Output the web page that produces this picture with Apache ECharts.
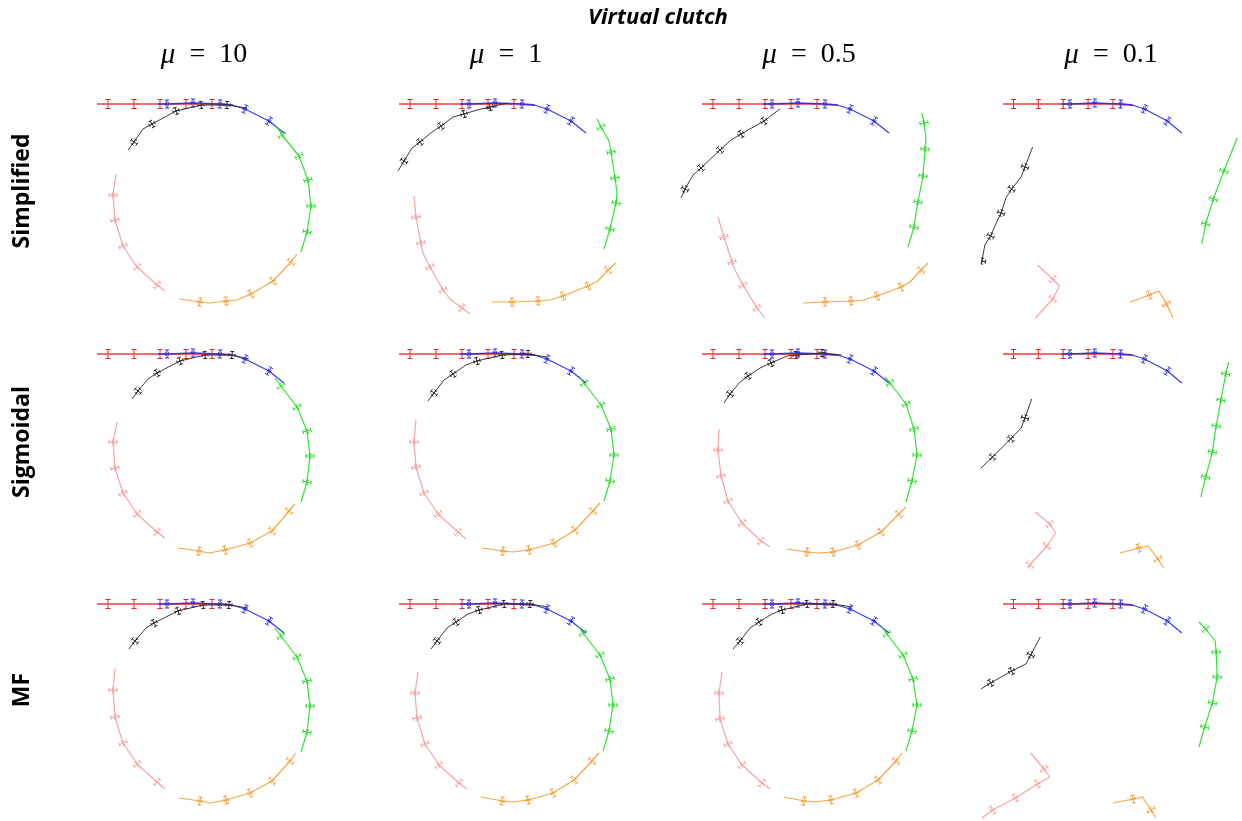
<!DOCTYPE html>
<html>
<head>
<meta charset="utf-8">
<script src="https://cdn.jsdelivr.net/npm/echarts@6/dist/echarts.min.js"></script>
<style>
  html, body { margin: 0; padding: 0; background: #fff; }
  #chart { width: 1242px; height: 821px; }
</style>
</head>
<body>
<div id="chart"></div>
<script>
// Column / row headings
const muValues = ['10', '1', '0.5', '0.1'];
const methods = ['Simplified', 'Sigmoidal', 'MF'];

// Track points: [x, y] is a path vertex, [x, y, 1] is an estimate with error bars.
// Reference segments shared by every panel
const redTrack = [[-1.15, 1.0], [-1.04, 1.0, 1], [-0.78, 1.0, 1], [-0.52, 1.0, 1], [-0.26, 1.0, 1], [0.0, 1.0, 1], [0.21, 0.99]];
const blueTrack = [[-0.54, 1.0], [-0.45, 1.0, 1], [-0.19, 1.01, 1], [0.08, 1.0, 1], [0.2, 0.99], [0.33, 0.95, 1], [0.57, 0.83, 1], [0.72, 0.71]];

// Simplified
const simp10 = {
  black: [[-0.84, 0.54], [-0.78, 0.62, 1], [-0.69, 0.75], [-0.60, 0.80, 1], [-0.36, 0.93, 1], [-0.11, 0.99, 1], [0.15, 0.99, 1], [0.35, 0.96]],
  green: [[0.65, 0.77], [0.70, 0.69, 1], [0.87, 0.48, 1], [0.96, 0.24, 1], [0.99, -0.02, 1], [0.95, -0.28, 1], [0.89, -0.48]],
  orange: [[-0.33, -0.95], [-0.12, -0.98, 1], [-0.02, -0.99], [0.14, -0.97, 1], [0.25, -0.96], [0.39, -0.90, 1], [0.61, -0.77, 1], [0.79, -0.58, 1], [0.85, -0.50]],
  pink: [[-0.96, 0.30], [-0.99, 0.09, 1], [-0.97, -0.16, 1], [-0.89, -0.42, 1], [-0.75, -0.63, 1], [-0.55, -0.81, 1], [-0.47, -0.87]]
};
const simp1 = {
  black: [[-1.16, 0.33], [-1.10, 0.43, 1], [-1.02, 0.56], [-0.94, 0.62, 1], [-0.82, 0.72], [-0.73, 0.78, 1], [-0.61, 0.87], [-0.50, 0.90, 1], [-0.37, 0.94], [-0.24, 0.97, 1], [-0.06, 1.01]],
  green: [[0.83, 0.85], [0.87, 0.77, 1], [0.95, 0.63], [0.97, 0.52, 1], [1.01, 0.26, 1], [1.03, 0.11], [1.02, 0.01, 1], [0.96, -0.25, 1], [0.90, -0.45]],
  orange: [[-0.22, -0.98], [-0.02, -0.98, 1], [0.24, -0.97, 1], [0.36, -0.96], [0.49, -0.92, 1], [0.74, -0.82, 1], [0.84, -0.77], [0.94, -0.66, 1], [1.02, -0.59]],
  pink: [[-1.00, 0.08], [-0.98, -0.13, 1], [-0.93, -0.39, 1], [-0.91, -0.49], [-0.84, -0.63, 1], [-0.71, -0.86, 1], [-0.64, -0.95], [-0.52, -1.04, 1], [-0.44, -1.10]]
};
const simp05 = {
  black: [[-1.36, 0.06], [-1.32, 0.15, 1], [-1.24, 0.29], [-1.16, 0.36, 1], [-0.97, 0.54, 1], [-0.86, 0.64], [-0.76, 0.70, 1], [-0.53, 0.83, 1], [-0.37, 0.95]],
  green: [[1.05, 0.91], [1.07, 0.81, 1], [1.09, 0.66], [1.08, 0.55, 1], [1.06, 0.28, 1], [1.01, 0.02, 1], [0.99, -0.09], [0.97, -0.23, 1], [0.91, -0.43]],
  orange: [[-0.14, -0.99], [0.08, -0.98, 1], [0.34, -0.97, 1], [0.46, -0.96], [0.60, -0.92, 1], [0.84, -0.83, 1], [0.93, -0.78], [1.04, -0.66, 1], [1.11, -0.59]],
  pink: [[-0.99, -0.13], [-0.93, -0.33, 1], [-0.85, -0.58, 1], [-0.82, -0.66], [-0.74, -0.81, 1], [-0.60, -1.04, 1], [-0.52, -1.14]]
};
const simp01 = {
  black: [[-0.84, 0.57], [-0.92, 0.37, 1], [-0.96, 0.27], [-1.06, 0.15, 1], [-1.12, 0.06], [-1.17, -0.09, 1], [-1.22, -0.19], [-1.28, -0.32, 1], [-1.34, -0.41], [-1.37, -0.57, 1], [-1.38, -0.60]],
  green: [[1.30, 0.66], [1.16, 0.33, 1], [1.05, 0.05, 1], [0.97, -0.20, 1], [0.93, -0.40]],
  orange: [[0.18, -0.98], [0.38, -0.91, 1], [0.48, -0.87], [0.56, -1.00, 1], [0.63, -1.14]],
  pink: [[-0.79, -0.61], [-0.63, -0.75, 1], [-0.56, -0.82], [-0.63, -0.95, 1], [-0.81, -1.14]]
};

// Sigmoidal
const sig10 = {
  black: [[-0.80, 0.55], [-0.74, 0.63, 1], [-0.64, 0.75], [-0.55, 0.81, 1], [-0.32, 0.93, 1], [-0.07, 0.99, 1], [0.20, 0.99, 1], [0.37, 0.95]],
  green: [[0.63, 0.76], [0.69, 0.68, 1], [0.85, 0.47, 1], [0.95, 0.23, 1], [0.98, -0.02, 1], [0.95, -0.28, 1], [0.89, -0.48]],
  orange: [[-0.34, -0.94], [-0.13, -0.97, 1], [-0.03, -0.99], [0.13, -0.96, 1], [0.38, -0.89, 1], [0.60, -0.77, 1], [0.77, -0.57, 1], [0.83, -0.50]],
  pink: [[-0.95, 0.32], [-0.99, 0.12, 1], [-0.97, -0.14, 1], [-0.89, -0.39, 1], [-0.75, -0.60, 1], [-0.55, -0.78, 1], [-0.47, -0.84]]
};
const sig1 = {
  black: [[-0.86, 0.53], [-0.80, 0.61, 1], [-0.70, 0.74], [-0.61, 0.80, 1], [-0.48, 0.89], [-0.37, 0.93, 1], [-0.12, 0.99, 1], [0.14, 1.00, 1], [0.33, 0.97]],
  green: [[0.65, 0.78], [0.70, 0.71, 1], [0.87, 0.49, 1], [0.97, 0.25, 1], [1.00, -0.01, 1], [0.96, -0.27, 1], [0.90, -0.47]],
  orange: [[-0.32, -0.94], [-0.11, -0.97, 1], [-0.01, -0.98], [0.15, -0.96, 1], [0.40, -0.89, 1], [0.61, -0.76, 1], [0.79, -0.57, 1], [0.86, -0.49]],
  pink: [[-0.98, 0.34], [-1.00, 0.12, 1], [-0.98, -0.13, 1], [-0.90, -0.39, 1], [-0.76, -0.60, 1], [-0.56, -0.78, 1], [-0.48, -0.85]]
};
const sig05 = {
  black: [[-0.93, 0.51], [-0.87, 0.60, 1], [-0.77, 0.72], [-0.69, 0.78, 1], [-0.57, 0.86], [-0.46, 0.91, 1], [-0.30, 0.98], [-0.21, 0.99, 1], [0.05, 1.01, 1], [0.25, 0.99]],
  green: [[0.68, 0.77], [0.73, 0.71, 1], [0.89, 0.50, 1], [0.97, 0.25, 1], [1.00, -0.01, 1], [0.95, -0.27, 1], [0.89, -0.48]],
  orange: [[-0.30, -0.95], [-0.10, -0.98, 1], [0.01, -0.99], [0.16, -0.98, 1], [0.41, -0.91, 1], [0.64, -0.78, 1], [0.82, -0.60, 1], [0.89, -0.53]],
  pink: [[-0.98, 0.25], [-0.99, 0.04, 1], [-0.96, -0.22, 1], [-0.89, -0.47, 1], [-0.75, -0.69, 1], [-0.56, -0.87, 1], [-0.47, -0.93]]
};
const sig01 = {
  black: [[-0.85, 0.55], [-0.92, 0.36, 1], [-0.96, 0.26], [-1.07, 0.15, 1], [-1.26, -0.03, 1], [-1.38, -0.14]],
  green: [[1.21, 0.92], [1.18, 0.80, 1], [1.13, 0.54, 1], [1.08, 0.28, 1], [1.04, 0.02, 1], [0.97, -0.23, 1], [0.92, -0.43]],
  orange: [[0.07, -0.99], [0.27, -0.94, 1], [0.37, -0.92], [0.47, -1.05, 1], [0.53, -1.14]],
  pink: [[-0.81, -0.58], [-0.66, -0.70, 1], [-0.60, -0.79], [-0.69, -0.92, 1], [-0.87, -1.11, 1], [-0.89, -1.14]]
};

// MF
const mf10 = {
  black: [[-0.83, 0.55], [-0.77, 0.63, 1], [-0.66, 0.76], [-0.58, 0.81, 1], [-0.34, 0.93, 1], [-0.09, 0.99, 1], [0.17, 0.99, 1], [0.36, 0.96]],
  green: [[0.63, 0.76], [0.69, 0.68, 1], [0.85, 0.47, 1], [0.95, 0.23, 1], [0.98, -0.02, 1], [0.95, -0.28, 1], [0.89, -0.48]],
  orange: [[-0.33, -0.94], [-0.12, -0.97, 1], [-0.02, -0.99], [0.14, -0.96, 1], [0.38, -0.89, 1], [0.60, -0.77, 1], [0.78, -0.57, 1], [0.84, -0.49]],
  pink: [[-0.97, 0.36], [-0.99, 0.14, 1], [-0.97, -0.13, 1], [-0.89, -0.39, 1], [-0.75, -0.60, 1], [-0.55, -0.78, 1], [-0.47, -0.85]]
};
const mf1 = {
  black: [[-0.83, 0.55], [-0.77, 0.63, 1], [-0.67, 0.76], [-0.58, 0.82, 1], [-0.46, 0.90], [-0.35, 0.94, 1], [-0.10, 1.00, 1], [0.16, 1.00, 1], [0.34, 0.97]],
  green: [[0.64, 0.78], [0.69, 0.71, 1], [0.86, 0.49, 1], [0.96, 0.25, 1], [0.99, -0.01, 1], [0.95, -0.27, 1], [0.89, -0.47]],
  orange: [[-0.33, -0.93], [-0.12, -0.97, 1], [-0.02, -0.98], [0.14, -0.96, 1], [0.39, -0.89, 1], [0.60, -0.76, 1], [0.78, -0.57, 1], [0.85, -0.49]],
  pink: [[-0.96, 0.32], [-0.99, 0.11, 1], [-0.97, -0.14, 1], [-0.89, -0.40, 1], [-0.75, -0.61, 1], [-0.55, -0.79, 1], [-0.47, -0.85]]
};
const mf05 = {
  black: [[-0.84, 0.55], [-0.77, 0.63, 1], [-0.67, 0.76], [-0.58, 0.82, 1], [-0.45, 0.90], [-0.35, 0.94, 1], [-0.10, 1.00, 1], [0.16, 1.00, 1], [0.35, 0.97]],
  green: [[0.65, 0.77], [0.70, 0.70, 1], [0.86, 0.49, 1], [0.96, 0.25, 1], [1.00, -0.01, 1], [0.95, -0.27, 1], [0.89, -0.47]],
  orange: [[-0.33, -0.93], [-0.13, -0.97, 1], [-0.02, -0.98], [0.14, -0.96, 1], [0.39, -0.89, 1], [0.61, -0.76, 1], [0.79, -0.57, 1], [0.85, -0.49]],
  pink: [[-0.95, 0.32], [-0.98, 0.11, 1], [-0.97, -0.15, 1], [-0.89, -0.40, 1], [-0.75, -0.61, 1], [-0.55, -0.79, 1], [-0.47, -0.85]]
};
const mf01 = {
  black: [[-0.76, 0.67], [-0.86, 0.49, 1], [-0.91, 0.40], [-1.06, 0.33, 1], [-1.28, 0.21, 1], [-1.38, 0.15]],
  green: [[0.90, 0.82], [0.97, 0.75, 1], [1.07, 0.63], [1.08, 0.52, 1], [1.09, 0.27, 1], [1.04, 0.01, 1], [0.96, -0.23, 1], [0.90, -0.43]],
  orange: [[0.00, -0.99], [0.21, -0.95, 1], [0.31, -0.93], [0.40, -1.06, 1], [0.45, -1.14]],
  pink: [[-0.86, -0.49], [-0.72, -0.65, 1], [-0.66, -0.73], [-0.79, -0.80, 1], [-1.02, -0.94, 1], [-1.26, -1.06, 1], [-1.37, -1.14]]
};

const panels = [
  [simp10, simp1, simp05, simp01],
  [sig10, sig1, sig05, sig01],
  [mf10, mf1, mf05, mf01]
];

// Drawing styles per track: line colour/width, error-bar colour and half sizes (px)
const trackStyle = {
  red:    { line: 'rgba(240,70,70,0.8)', width: 2,   bar: '#e8262e', cross: 4.5, along: 0.8, cap: 2.6 },
  blue:   { line: 'rgba(40,40,235,0.9)', width: 1.3, bar: '#2b2bf0', cross: 4,   along: 1.5, cap: 2.2 },
  black:  { line: 'rgba(40,40,40,0.9)',  width: 1,   bar: '#222222', cross: 3.5, along: 3,   cap: 2   },
  green:  { line: 'rgba(40,225,40,0.95)', width: 1.2, bar: '#2fd82f', cross: 4,  along: 2,   cap: 2   },
  orange: { line: 'rgba(245,160,60,0.95)', width: 1.2, bar: '#f39a30', cross: 4, along: 2,   cap: 2   },
  pink:   { line: 'rgba(243,160,160,0.95)', width: 1.2, bar: '#f29a9a', cross: 4, along: 2,  cap: 2   }
};
const trackOrder = ['red', 'blue', 'black', 'green', 'orange', 'pink'];

// Panel geometry
const unitPx = 100;
const colCenters = [212, 514, 817, 1119];
const rowCenters = [204, 454, 704];
const xRange = [-1.38, 1.35];
const yRange = [-1.15, 1.12];

function errorBarRenderer(st) {
  return function (params, api) {
    const p = api.coord([api.value(0), api.value(1)]);
    const a = api.coord([api.value(2), api.value(3)]);
    const b = api.coord([api.value(4), api.value(5)]);
    let dx = b[0] - a[0], dy = b[1] - a[1];
    const L = Math.hypot(dx, dy) || 1;
    dx /= L; dy /= L;
    const nx = -dy, ny = dx;
    const children = [];
    const seg = (x1, y1, x2, y2) => children.push({
      type: 'line', shape: { x1, y1, x2, y2 },
      style: { stroke: st.bar, lineWidth: 1 }
    });
    // bar across the path, capped
    seg(p[0] - nx * st.cross, p[1] - ny * st.cross, p[0] + nx * st.cross, p[1] + ny * st.cross);
    [-1, 1].forEach(s => {
      const cx = p[0] + s * nx * st.cross, cy = p[1] + s * ny * st.cross;
      seg(cx - dx * st.cap, cy - dy * st.cap, cx + dx * st.cap, cy + dy * st.cap);
    });
    // bar along the path, capped
    if (st.along > 1) {
      seg(p[0] - dx * st.along, p[1] - dy * st.along, p[0] + dx * st.along, p[1] + dy * st.along);
      [-1, 1].forEach(s => {
        const cx = p[0] + s * dx * st.along, cy = p[1] + s * dy * st.along;
        seg(cx - nx * st.cap * 0.8, cy - ny * st.cap * 0.8, cx + nx * st.cap * 0.8, cy + ny * st.cap * 0.8);
      });
    }
    return { type: 'group', children };
  };
}

const grids = [], xAxes = [], yAxes = [], series = [];
panels.forEach((row, r) => {
  row.forEach((panel, c) => {
    const k = grids.length;
    grids.push({
      left: colCenters[c] + xRange[0] * unitPx,
      top: rowCenters[r] - yRange[1] * unitPx,
      width: (xRange[1] - xRange[0]) * unitPx,
      height: (yRange[1] - yRange[0]) * unitPx
    });
    xAxes.push({ type: 'value', gridIndex: k, min: xRange[0], max: xRange[1], show: false });
    yAxes.push({ type: 'value', gridIndex: k, min: yRange[0], max: yRange[1], show: false });
    const tracks = Object.assign({ red: redTrack, blue: blueTrack }, panel);
    trackOrder.forEach(name => {
      const pts = tracks[name];
      const st = trackStyle[name];
      series.push({
        type: 'line', xAxisIndex: k, yAxisIndex: k,
        data: pts.map(p => [p[0], p[1]]),
        symbol: 'none', clip: true, silent: true,
        lineStyle: { color: st.line, width: st.width }
      });
      const marks = [];
      pts.forEach((p, i) => {
        if (p[2] === 1) {
          const prev = pts[Math.max(0, i - 1)], next = pts[Math.min(pts.length - 1, i + 1)];
          marks.push([p[0], p[1], prev[0], prev[1], next[0], next[1]]);
        }
      });
      series.push({
        type: 'custom', xAxisIndex: k, yAxisIndex: k,
        data: marks, clip: true, silent: true,
        renderItem: errorBarRenderer(st)
      });
    });
  });
});

const graphics = [
  {
    type: 'text', x: 658, y: 18,
    style: {
      text: 'Virtual clutch', fontFamily: 'Open Sans', fontWeight: 'bold', fontStyle: 'italic',
      fontSize: 22, fill: '#000', textAlign: 'center', textVerticalAlign: 'middle'
    }
  }
];
muValues.forEach((mu, c) => {
  graphics.push({
    type: 'text', x: colCenters[c] - 8, y: 55,
    style: {
      text: '{m|μ}{n|  =  ' + mu + '}',
      textAlign: 'center', textVerticalAlign: 'middle',
      rich: {
        m: { fontFamily: 'Liberation Serif', fontStyle: 'italic', fontSize: 29, fill: '#000' },
        n: { fontFamily: 'Liberation Serif', fontSize: 28, fill: '#000' }
      }
    }
  });
});
methods.forEach((m, r) => {
  graphics.push({
    type: 'text', x: 22, y: [191, 442, 690][r], rotation: Math.PI / 2,
    style: {
      text: m, fontFamily: 'Open Sans', fontWeight: 'bold', fontSize: 23, fill: '#000',
      textAlign: 'center', textVerticalAlign: 'middle'
    }
  });
});

const chart = echarts.init(document.getElementById('chart'));
chart.setOption({
  animation: false,
  backgroundColor: '#fff',
  grid: grids,
  xAxis: xAxes,
  yAxis: yAxes,
  series: series,
  graphic: graphics
});
</script>
</body>
</html>
